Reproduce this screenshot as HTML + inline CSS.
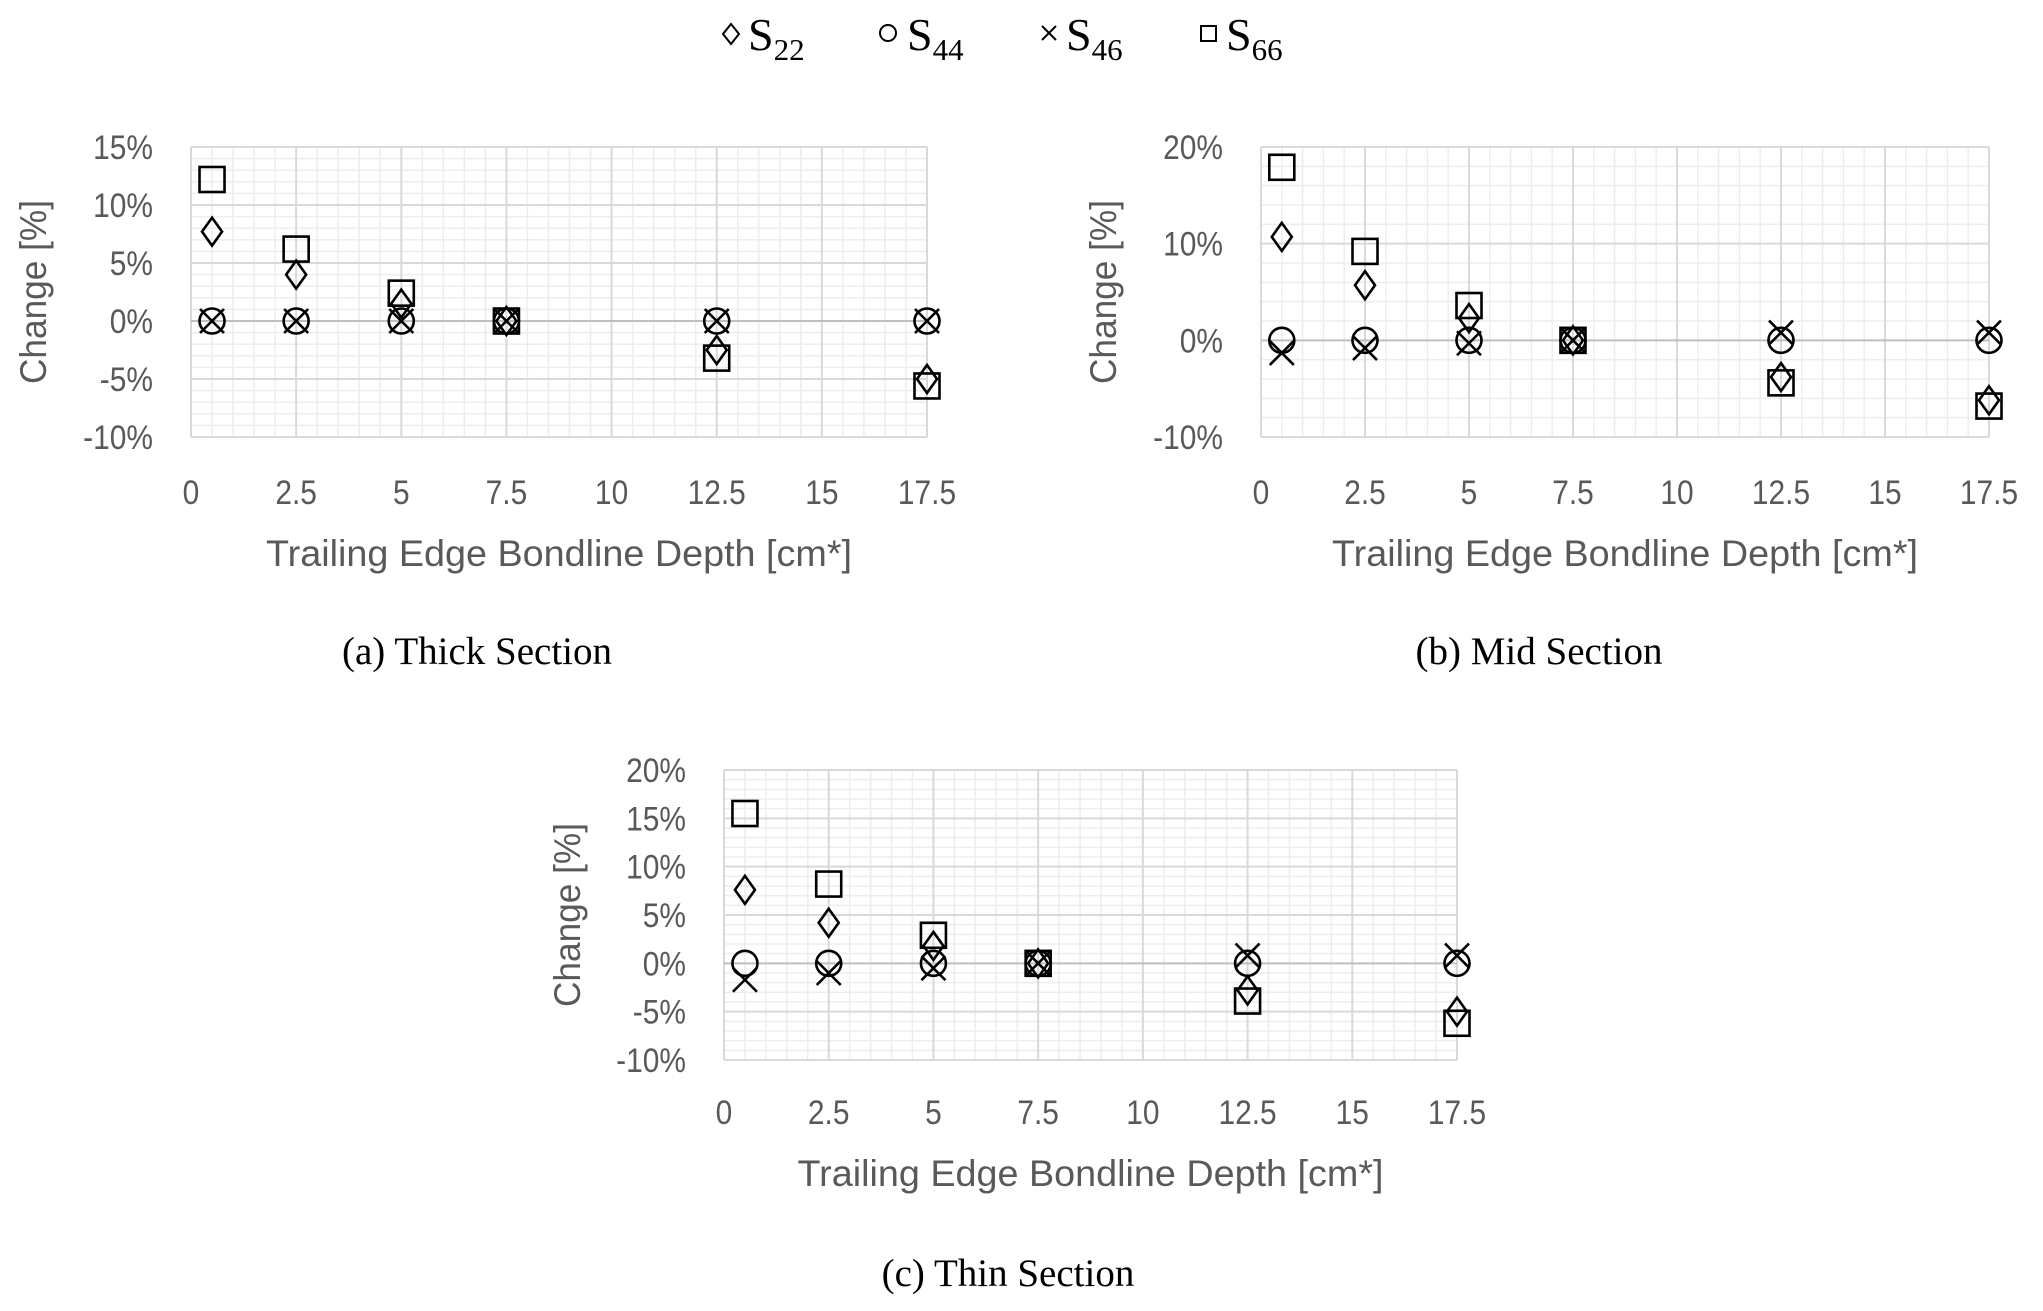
<!DOCTYPE html>
<html><head><meta charset="utf-8"><style>
html,body{margin:0;padding:0;background:#fff;}
svg{display:block;}
.tick{font-family:"Liberation Sans Narrow","Liberation Sans",sans-serif;fill:#595959;font-size:34px;}
.ttl{font-family:"Liberation Sans Narrow","Liberation Sans",sans-serif;fill:#595959;font-size:37px;}
.cap{font-family:"Liberation Serif",serif;fill:#000;font-size:39px;}
.leg{font-family:"Liberation Serif",serif;fill:#000;font-size:46px;}
</style></head><body>
<svg id="fig" width="2043" height="1311" viewBox="0 0 2043 1311" xmlns="http://www.w3.org/2000/svg">
<g>
 <g><path d="M731,24 L739,34 L731,44 L723,34 Z" fill="none" stroke="#000" stroke-width="2"/><text class="leg" x="748" y="50">S<tspan font-size="31" dy="10">22</tspan></text></g>
 <g><circle cx="888" cy="33" r="8" fill="none" stroke="#000" stroke-width="2"/><text class="leg" x="907" y="50">S<tspan font-size="31" dy="10">44</tspan></text></g>
 <g><path d="M1042,26 L1056,40 M1056,26 L1042,40" stroke="#000" stroke-width="2"/><text class="leg" x="1066" y="50">S<tspan font-size="31" dy="10">46</tspan></text></g>
 <g><rect x="1201" y="26" width="15" height="15" fill="none" stroke="#000" stroke-width="2"/><text class="leg" x="1226" y="50">S<tspan font-size="31" dy="10">66</tspan></text></g>
</g>
</svg>
<script>
const depths=[0.5,2.5,5,7.5,12.5,17.5];
const xTicks=[0,2.5,5,7.5,10,12.5,15,17.5];
const thickS22=[7.7,4,1.5,0,-2.5,-5];
const thickS44=[0,0,0,0,0,0];
const thickS46=[0,0,0,0,0,0];
const thickS66=[12.2,6.2,2.4,0,-3.2,-5.6];
const thickYTicks=[-10,-5,0,5,10,15];
const midS22=[10.7,5.7,2.3,0,-3.8,-6.2];
const midS44=[0,0,0,0,0,0];
const midS46=[-1.3,-0.8,-0.3,0,0.8,0.8];
const midS66=[17.9,9.2,3.6,0,-4.4,-6.8];
const midYTicks=[-10,0,10,20];
const thinS22=[7.6,4.2,1.8,0,-2.8,-5];
const thinS44=[0,0,0,0,0,0];
const thinS46=[-1.7,-1,-0.5,0,0.8,0.8];
const thinS66=[15.5,8.2,2.9,0,-3.9,-6.2];
const thinYTicks=[-10,-5,0,5,10,15,20];

const NS="http://www.w3.org/2000/svg";
const svg=document.getElementById('fig');
function mk(tag,attrs,parent){const e=document.createElementNS(NS,tag);for(const k in attrs)e.setAttribute(k,attrs[k]);(parent||svg).appendChild(e);return e;}

function chart(cfg){
 const g=mk('g',{});
 
 
 const {L,R,T,B,ymin,ymax,minorY}=cfg;
 const X=v=>L+(v-0)/(17.5-0)*(R-L);
 const Y=v=>B-(v-ymin)/(ymax-ymin)*(B-T);
 for(let v=0.5;v<17.5;v+=0.5){if(Math.abs(v/2.5-Math.round(v/2.5))<1e-6)continue;mk('line',{x1:X(v),x2:X(v),y1:T,y2:B,stroke:'#ededed','stroke-width':1.5},g);}
 for(let v=ymin+minorY;v<ymax;v+=minorY){mk('line',{x1:L,x2:R,y1:Y(v),y2:Y(v),stroke:'#ededed','stroke-width':1.5},g);}
 xTicks.forEach(v=>{mk('line',{x1:X(v),x2:X(v),y1:T,y2:B,stroke:'#d9d9d9','stroke-width':2},g);});
 cfg.yTicks.forEach(v=>{mk('line',{x1:L,x2:R,y1:Y(v),y2:Y(v),stroke:v===0?'#bfbfbf':'#d9d9d9','stroke-width':2},g);});
 cfg.yTicks.forEach(v=>{const t=mk('text',{class:'tick',x:0,y:0,'text-anchor':'end',transform:`translate(${L-38},${Y(v)+12}) scale(0.88,1)`},g);t.textContent=v+'%';
  
  });
 xTicks.forEach(v=>{const t=mk('text',{class:'tick',x:0,y:0,'text-anchor':'middle',transform:`translate(${X(v)},${cfg.xLabY}) scale(0.88,1)`},g);t.textContent=String(v);
  
  });
 const xt=mk('text',{class:'ttl',x:(L+R)/2,y:cfg.xTitleY,'text-anchor':'middle',textLength:586,lengthAdjust:'spacingAndGlyphs'},g);
 xt.textContent='Trailing Edge Bondline Depth [cm*]';
 
 
 const yt=mk('text',{class:'ttl',x:0,y:0,'text-anchor':'middle',textLength:184,lengthAdjust:'spacingAndGlyphs',transform:`translate(${cfg.yTitleX},${(T+B)/2}) rotate(-90)`},g);
 yt.textContent='Change [%]';
 
 
 const cap=mk('text',{class:'cap',x:cfg.capX,y:cfg.capY,'text-anchor':'middle'},g);
 cap.textContent=cfg.caption;
 
 
 const sw=2.6;
 depths.forEach((d,i)=>{
  const x=X(d);
  let y=Y(cfg.s66[i]);
  const sq=mk('rect',{x:x-12.5,y:y-12.5,width:25,height:25,fill:'none',stroke:'#000','stroke-width':sw},g);
  
  
  y=Y(cfg.s44[i]);
  const c=mk('circle',{cx:x,cy:y,r:12.5,fill:'none',stroke:'#000','stroke-width':sw},g);
  
  
  y=Y(cfg.s46[i]);
  const xm=mk('path',{d:`M${x-12},${y-12} L${x+12},${y+12} M${x+12},${y-12} L${x-12},${y+12}`,stroke:'#000','stroke-width':sw},g);
  
  
  y=Y(cfg.s22[i]);
  const dm=mk('path',{d:`M${x},${y-14} L${x+10},${y} L${x},${y+14} L${x-10},${y} Z`,fill:'none',stroke:'#000','stroke-width':sw},g);
  
  
 });
}
chart({name:'chart-thick-section',L:191,R:927,T:147,B:437,ymin:-10,ymax:15,minorY:1,yTicks:thickYTicks,
 s22:thickS22,s44:thickS44,s46:thickS46,s66:thickS66,xLabY:504,xTitleY:566,yTitleX:46,capX:477,capY:664,caption:'(a) Thick Section'});
chart({name:'chart-mid-section',L:1261,R:1989,T:147,B:437,ymin:-10,ymax:20,minorY:2,yTicks:midYTicks,
 s22:midS22,s44:midS44,s46:midS46,s66:midS66,xLabY:504,xTitleY:566,yTitleX:1116,capX:1539,capY:664,caption:'(b) Mid Section'});
chart({name:'chart-thin-section',L:724,R:1457,T:770,B:1060,ymin:-10,ymax:20,minorY:1,yTicks:thinYTicks,
 s22:thinS22,s44:thinS44,s46:thinS46,s66:thinS66,xLabY:1124,xTitleY:1186,yTitleX:580,capX:1008,capY:1286,caption:'(c) Thin Section'});
</script>
</body></html>
